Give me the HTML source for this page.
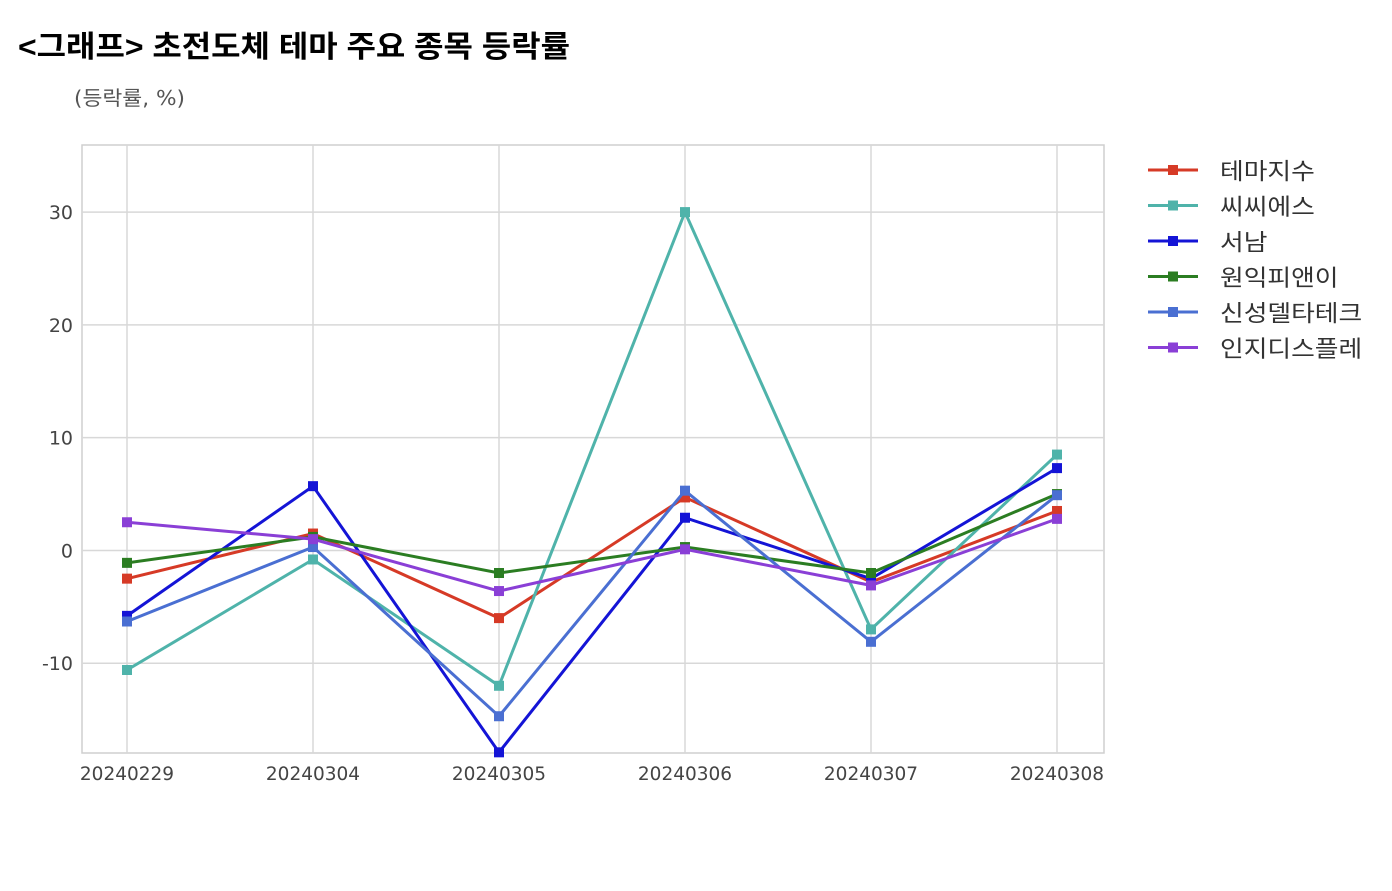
<!DOCTYPE html>
<html><head><meta charset="utf-8">
<style>
body{margin:0;background:#fff;width:1392px;height:886px;overflow:hidden;font-family:"Liberation Sans","Noto Sans CJK KR",sans-serif;}
</style></head>
<body>
<svg width="1392" height="886" xmlns="http://www.w3.org/2000/svg">
<text x="18" y="57" font-size="30" font-weight="bold" fill="#000" textLength="552" lengthAdjust="spacingAndGlyphs" font-family="Liberation Sans, Noto Sans CJK KR, sans-serif">&lt;그래프&gt; 초전도체 테마 주요 종목 등락률</text>
<text x="74" y="105" font-size="20" fill="#555" textLength="111" lengthAdjust="spacingAndGlyphs" font-family="DejaVu Sans, Noto Sans CJK KR, sans-serif">(등락률, %)</text>
<g id="grid"></g>
<g id="series"></g>
<g id="legend"></g>
</svg>
<script>
const categories=["20240229","20240304","20240305","20240306","20240307","20240308"];
const seriesNames=["테마지수","씨씨에스","서남","원익피앤이","신성델타테크","인지디스플레"];
const s0=[-2.5,1.5,-6.0,4.7,-2.8,3.5];
const s1=[-10.6,-0.8,-12.0,30.0,-7.0,8.5];
const s2=[-5.8,5.7,-17.9,2.9,-2.5,7.3];
const s3=[-1.1,1.2,-2.0,0.3,-2.0,5.0];
const s4=[-6.3,0.3,-14.7,5.3,-8.1,4.9];
const s5=[2.5,1.0,-3.6,0.1,-3.1,2.8];
const yTicks=[-10,0,10,20,30];
const colors=["#d63a26","#4fb3aa","#1414d6","#2b7d22","#4a6fd2","#8a3fd6"];
const allSeries=[s0,s1,s2,s3,s4,s5];
const NS="http://www.w3.org/2000/svg";
const L=82,R=1104,T=145,B=753,yMin=-17.96,yMax=35.95;
const xs=i=>127+i*(1057-127)/(categories.length-1);
const ys=v=>B-(v-yMin)/(yMax-yMin)*(B-T);
function mk(tag,attrs,parent){const e=document.createElementNS(NS,tag);for(const k in attrs)e.setAttribute(k,attrs[k]);parent.appendChild(e);return e;}
const grid=document.getElementById('grid');
const bg=mk('rect',{x:L,y:T,width:R-L,height:B-T,fill:'#fff',stroke:'#cfcfcf','stroke-width':1.5},grid);


yTicks.forEach(v=>{
 const ln=mk('line',{x1:L,x2:R,y1:ys(v),y2:ys(v),stroke:'#d8d8d8','stroke-width':1.5},grid);
 
 
 const t=mk('text',{x:73,y:ys(v)+7,'text-anchor':'end','font-size':19,fill:'#444','font-family':'DejaVu Sans, sans-serif'},grid);
 t.textContent=v;
 
 
});
categories.forEach((c,i)=>{
 const ln=mk('line',{x1:xs(i),x2:xs(i),y1:T,y2:B,stroke:'#d8d8d8','stroke-width':1.5},grid);
 
 
 const t=mk('text',{x:xs(i),y:780,'text-anchor':'middle','font-size':18.5,fill:'#444','font-family':'DejaVu Sans, sans-serif'},grid);
 t.textContent=c;
 
 
});
const sg=document.getElementById('series');
allSeries.forEach((s,k)=>{
 const g=mk('g',{},sg);
 
 
 const pl=mk('polyline',{points:s.map((v,i)=>xs(i)+','+ys(v)).join(' '),fill:'none',stroke:colors[k],'stroke-width':3},g);
 
 
 s.forEach((v,i)=>{
  const m=mk('rect',{x:xs(i)-5,y:ys(v)-5,width:10,height:10,fill:colors[k]},g);
  
  
 });
});
const lg=document.getElementById('legend');
seriesNames.forEach((n,k)=>{
 const y=170+k*35.5;
 const g=mk('g',{},lg);
 
 
 mk('line',{x1:1148,x2:1198,y1:y,y2:y,stroke:colors[k],'stroke-width':3},g);
 mk('rect',{x:1168,y:y-5,width:10,height:10,fill:colors[k]},g);
 const t=mk('text',{x:1220,y:y+9,'font-size':23,fill:'#333',textLength:n.length*23.7,lengthAdjust:'spacingAndGlyphs'},g);
 t.textContent=n;
});
</script>
</body></html>
